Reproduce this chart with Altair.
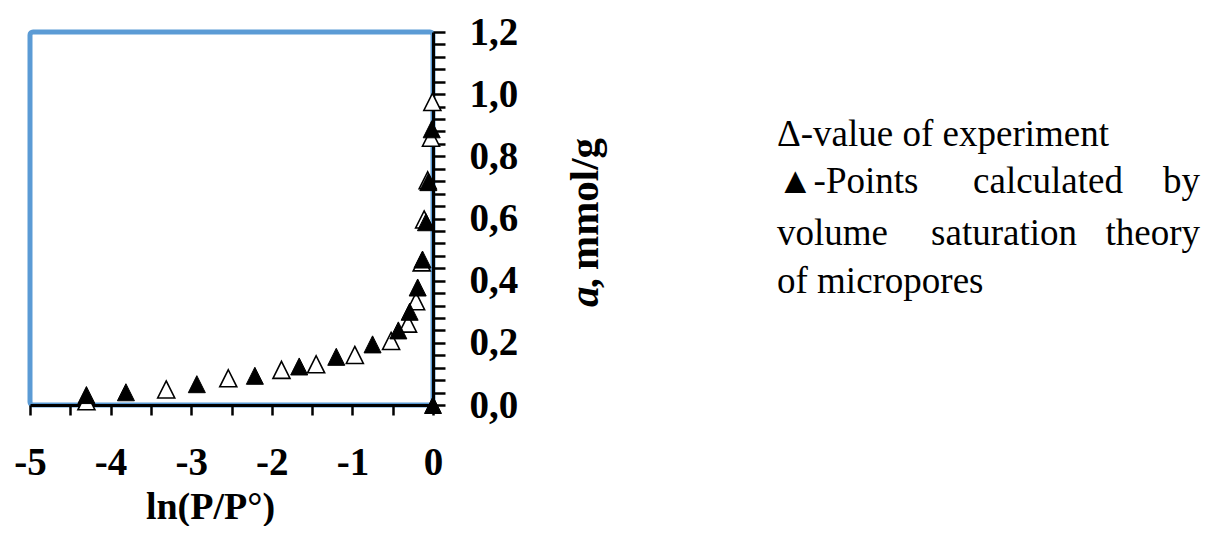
import altair as alt
import pandas as pd

# Experimental points (open triangles)
exp_x = [-4.30, -3.31, -2.54, -1.88, -1.45, -0.97, -0.52, -0.31, -0.21, -0.14, -0.11, -0.066, -0.025, -0.008]
exp_y = [0.012, 0.050, 0.086, 0.113, 0.131, 0.161, 0.206, 0.262, 0.334, 0.459, 0.597, 0.723, 0.860, 0.975]

# Calculated points (filled triangles)
calc_x = [-4.30, -3.81, -2.93, -2.21, -1.66, -1.20, -0.75, -0.43, -0.29, -0.19, -0.13, -0.087, -0.058, -0.016, 0.0]
calc_y = [0.032, 0.041, 0.067, 0.094, 0.124, 0.155, 0.195, 0.240, 0.300, 0.378, 0.468, 0.588, 0.717, 0.887, 0.0]

x_ticks = [-5, -4.5, -4, -3.5, -3, -2.5, -2, -1.5, -1, -0.5, 0]
y_ticks = [0, 0.04, 0.08, 0.12, 0.16, 0.2, 0.24, 0.28, 0.32, 0.36, 0.4, 0.44, 0.48, 0.52, 0.56, 0.6,
           0.64, 0.68, 0.72, 0.76, 0.8, 0.84, 0.88, 0.92, 0.96, 1.0, 1.04, 1.08, 1.12, 1.16, 1.2]

x_title = "ln(P/P°)"
y_title_italic = "a,"
y_title_rest = "mmol/g"

ann_words = ["Δ-value of experiment", "▲-Points", "calculated", "by",
             "volume", "saturation", "theory", "of micropores"]
ann_px = [747, 747, 1093, 1170, 747, 1047, 1170, 747]
ann_py = [114, 161, 161, 161, 213, 213, 213, 261]
ann_align = ["left", "left", "right", "right", "left", "right", "right", "left"]

df_exp = pd.DataFrame({"x": exp_x, "y": exp_y})
df_calc = pd.DataFrame({"x": calc_x, "y": calc_y})

SERIF = "Liberation Serif"
TRI = "M0,-1L1,1L-1,1Z"

xaxis = alt.Axis(
    values=x_ticks,
    labelExpr="datum.value == round(datum.value) ? toString(datum.value) : ''",
    grid=False, orient="bottom",
    domainColor="black", domainWidth=3,
    tickColor="black", tickWidth=2.5, tickSize=10,
    labelFont=SERIF, labelFontWeight="bold", labelFontSize=39, labelColor="black",
    labelPadding=28, labelOverlap=False, labelFlush=False,
    title=x_title, titleFont=SERIF, titleFontSize=38, titleFontWeight="bold",
    titleColor="black", titleX=180, titleY=113, titleBaseline="alphabetic",
    titleAlign="center", titleAngle=0,
)
yaxis = alt.Axis(
    values=y_ticks,
    labelExpr="abs(datum.value*5 - round(datum.value*5)) < 0.000001 ? replace(format(datum.value, '.1f'), '.', ',') : ''",
    grid=False, orient="right",
    domainColor="black", domainWidth=3,
    tickColor="black", tickWidth=2.5, tickSize=12,
    labelFont=SERIF, labelFontWeight="bold", labelFontSize=39, labelColor="black",
    labelPadding=24, labelOverlap=False, labelFlush=False, labelAlign="left",
    labelBaseline="middle",
    title="",
)

xenc = alt.X("x:Q", scale=alt.Scale(domain=[-5, 0], nice=False, zero=False), axis=xaxis)
yenc = alt.Y("y:Q", scale=alt.Scale(domain=[0, 1.2], nice=False), axis=yaxis)

exp_layer = alt.Chart(df_exp).mark_point(
    shape=TRI, size=290, filled=True, fill="white", stroke="black", strokeWidth=1.6, opacity=1
).encode(x=xenc, y=yenc)

calc_layer = alt.Chart(df_calc).mark_point(
    shape=TRI, size=290, filled=True, fill="black", stroke="black", strokeWidth=1, opacity=1
).encode(x=xenc, y=yenc)

layers = [exp_layer, calc_layer]

one = pd.DataFrame({"k": [0]})

# y-axis title (rotated, "a" italic)
layers.append(alt.Chart(one).mark_text(
    text=y_title_italic, font=SERIF, fontSize=41, fontWeight="bold", fontStyle="italic",
    angle=270, align="left", baseline="alphabetic", color="black"
).encode(x=alt.value(568), y=alt.value(275)))
layers.append(alt.Chart(one).mark_text(
    text=y_title_rest, font=SERIF, fontSize=41, fontWeight="bold",
    angle=270, align="left", baseline="alphabetic", color="black"
).encode(x=alt.value(568), y=alt.value(238)))

for w, px, py, al in zip(ann_words, ann_px, ann_py, ann_align):
    layers.append(alt.Chart(one).mark_text(
        text=w, font=SERIF, fontSize=37, align=al, baseline="alphabetic", color="black"
    ).encode(x=alt.value(px), y=alt.value(py)))

chart = alt.layer(*layers).properties(
    width=403, height=373,
    padding={"left": 22, "top": 24, "right": 771, "bottom": 121},
    autosize=alt.AutoSizeParams(type="none"),
    background="white",
).configure_view(
    stroke="#5B9BD5", strokeWidth=5, cornerRadius=3
)

chart.save("out.html", embed_options={"renderer": "svg", "actions": False})
